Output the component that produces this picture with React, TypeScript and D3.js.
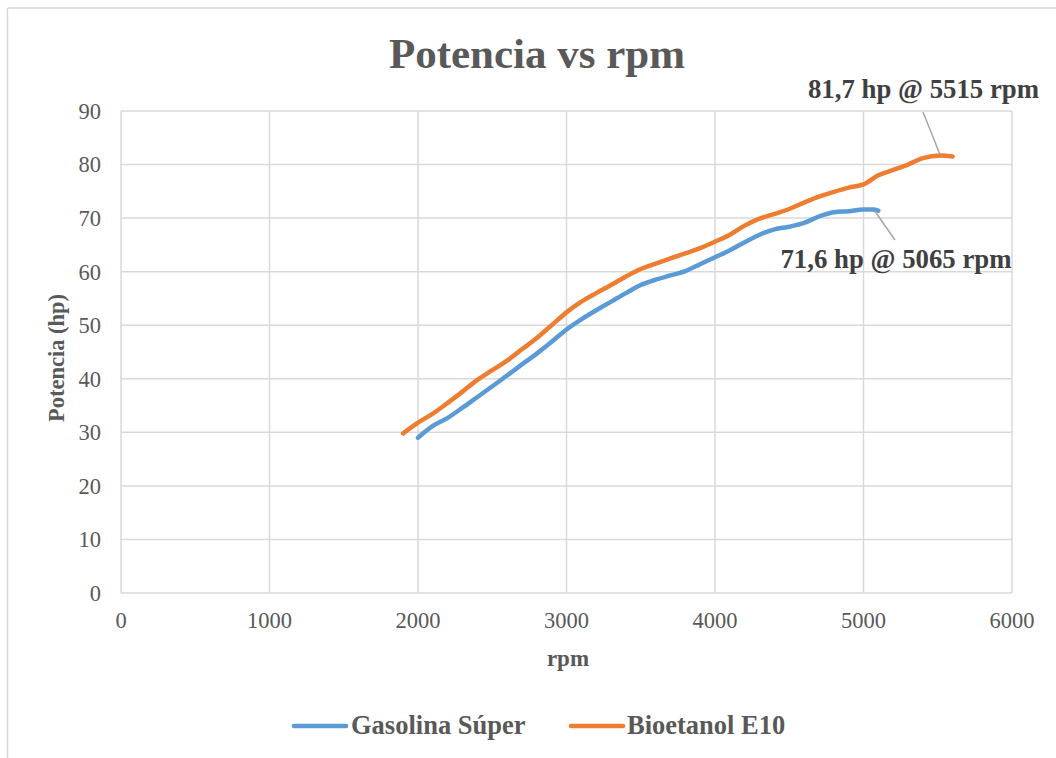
import React from "react";
import * as d3 from "d3";

const gasRpm = [2000, 2100, 2200, 2300, 2400, 2500, 2600, 2700, 2800, 2900, 3000, 3100, 3200, 3300, 3400, 3500, 3600, 3700, 3800, 3900, 4000, 4100, 4200, 4300, 4400, 4500, 4600, 4700, 4800, 4900, 5000, 5065, 5100];
const gasHp = [29.0, 31.2, 32.7, 34.6, 36.6, 38.6, 40.6, 42.7, 44.7, 46.9, 49.2, 51.1, 52.8, 54.4, 56.0, 57.5, 58.5, 59.3, 60.1, 61.4, 62.7, 64.0, 65.5, 66.9, 67.9, 68.4, 69.1, 70.3, 71.1, 71.3, 71.6, 71.6, 71.4];

const bioRpm = [1900, 2000, 2100, 2200, 2300, 2400, 2500, 2600, 2700, 2800, 2900, 3000, 3100, 3200, 3300, 3400, 3500, 3600, 3700, 3800, 3900, 4000, 4100, 4200, 4300, 4400, 4500, 4600, 4700, 4800, 4900, 5000, 5100, 5200, 5300, 5400, 5515, 5600];
const bioHp = [29.8, 31.8, 33.5, 35.5, 37.6, 39.8, 41.6, 43.4, 45.5, 47.6, 50.0, 52.4, 54.4, 56.0, 57.5, 59.1, 60.5, 61.5, 62.5, 63.4, 64.4, 65.6, 66.9, 68.6, 69.9, 70.8, 71.7, 72.9, 74.0, 74.9, 75.7, 76.3, 78.0, 79.0, 80.0, 81.2, 81.7, 81.5];

const xTicks = [0, 1000, 2000, 3000, 4000, 5000, 6000];
const yTicks = [0, 10, 20, 30, 40, 50, 60, 70, 80, 90];

const seriesNames = ["Gasolina Súper", "Bioetanol E10"];
const seriesColors = ["#5B9BD5", "#ED7D31"];
const peakLabels = ["71,6 hp @ 5065 rpm", "81,7 hp @ 5515 rpm"];

const W = 1056;
const H = 758;
const TEXT = "#595959";
const GRID = "#D9D9D9";
const FONT = "'Liberation Serif', 'Times New Roman', serif";

export default function App() {
  const x = d3.scaleLinear().domain([0, 6000]).range([121, 1012]);
  const y = d3.scaleLinear().domain([0, 90]).range([593, 111]);

  const line = d3
    .line<[number, number]>()
    .x((d) => x(d[0]))
    .y((d) => y(d[1]))
    .curve(d3.curveMonotoneX);

  const gas: [number, number][] = gasRpm.map((r, i) => [r, gasHp[i]]);
  const bio: [number, number][] = bioRpm.map((r, i) => [r, bioHp[i]]);

  const gasPeak: [number, number] = [5065, 71.6];
  const bioPeak: [number, number] = [5515, 81.7];

  return (
    <svg
      width={W}
      height={H}
      style={{ position: "absolute", left: 0, top: 0, background: "#fff" }}
      fontFamily={FONT}
    >
      <rect x={0} y={0} width={W} height={H} fill="#fff" />
      <line x1={7.5} y1={8} x2={W} y2={8} stroke={GRID} strokeWidth={1.5} />
      <line x1={7.5} y1={8} x2={7.5} y2={H} stroke={GRID} strokeWidth={1.5} />

      {yTicks.map((t) => (
        <line key={"gy" + t} x1={x(0)} x2={x(6000)} y1={y(t)} y2={y(t)} stroke={GRID} strokeWidth={1.5} />
      ))}
      {xTicks.map((t) => (
        <line key={"gx" + t} x1={x(t)} x2={x(t)} y1={y(0)} y2={y(90)} stroke={GRID} strokeWidth={1.5} />
      ))}

      {yTicks.map((t) => (
        <text key={"ty" + t} x={101} y={y(t)} dy="0.35em" textAnchor="end" fontSize={22.5} fill={TEXT}>
          {t}
        </text>
      ))}
      {xTicks.map((t) => (
        <text key={"tx" + t} x={x(t)} y={628} textAnchor="middle" fontSize={22.5} fill={TEXT}>
          {t}
        </text>
      ))}

      <text x={568} y={666} textAnchor="middle" fontSize={23} fontWeight="bold" fill={TEXT}>
        rpm
      </text>
      <text
        transform={`translate(64,358) rotate(-90)`}
        textAnchor="middle"
        fontSize={22.5}
        fontWeight="bold"
        fill={TEXT}
      >
        Potencia (hp)
      </text>

      <text x={537} y={68} textAnchor="middle" fontSize={43} fontWeight="bold" fill={TEXT}>
        Potencia vs rpm
      </text>

      <path d={line(gas) || ""} fill="none" stroke={seriesColors[0]} strokeWidth={4.5} strokeLinecap="round" strokeLinejoin="round" />
      <path d={line(bio) || ""} fill="none" stroke={seriesColors[1]} strokeWidth={4.5} strokeLinecap="round" strokeLinejoin="round" />

      <line x1={x(gasPeak[0]) + 2} y1={y(gasPeak[1]) + 2} x2={895} y2={240} stroke="#A6A6A6" strokeWidth={1.5} />
      <line x1={x(bioPeak[0])} y1={y(bioPeak[1]) - 1} x2={923} y2={112} stroke="#A6A6A6" strokeWidth={1.5} />

      <text x={896} y={268} textAnchor="middle" fontSize={26.8} fontWeight="bold" fill="#404040">
        {peakLabels[0]}
      </text>
      <text x={923.5} y={98} textAnchor="middle" fontSize={26.8} fontWeight="bold" fill="#404040">
        {peakLabels[1]}
      </text>

      <line x1={294} x2={346} y1={726} y2={726} stroke={seriesColors[0]} strokeWidth={4.5} strokeLinecap="round" />
      <text x={351} y={734} fontSize={26.5} fontWeight="bold" fill={TEXT}>
        {seriesNames[0]}
      </text>
      <line x1={571} x2={623} y1={726} y2={726} stroke={seriesColors[1]} strokeWidth={4.5} strokeLinecap="round" />
      <text x={627} y={734} fontSize={26.5} fontWeight="bold" fill={TEXT}>
        {seriesNames[1]}
      </text>
    </svg>
  );
}
